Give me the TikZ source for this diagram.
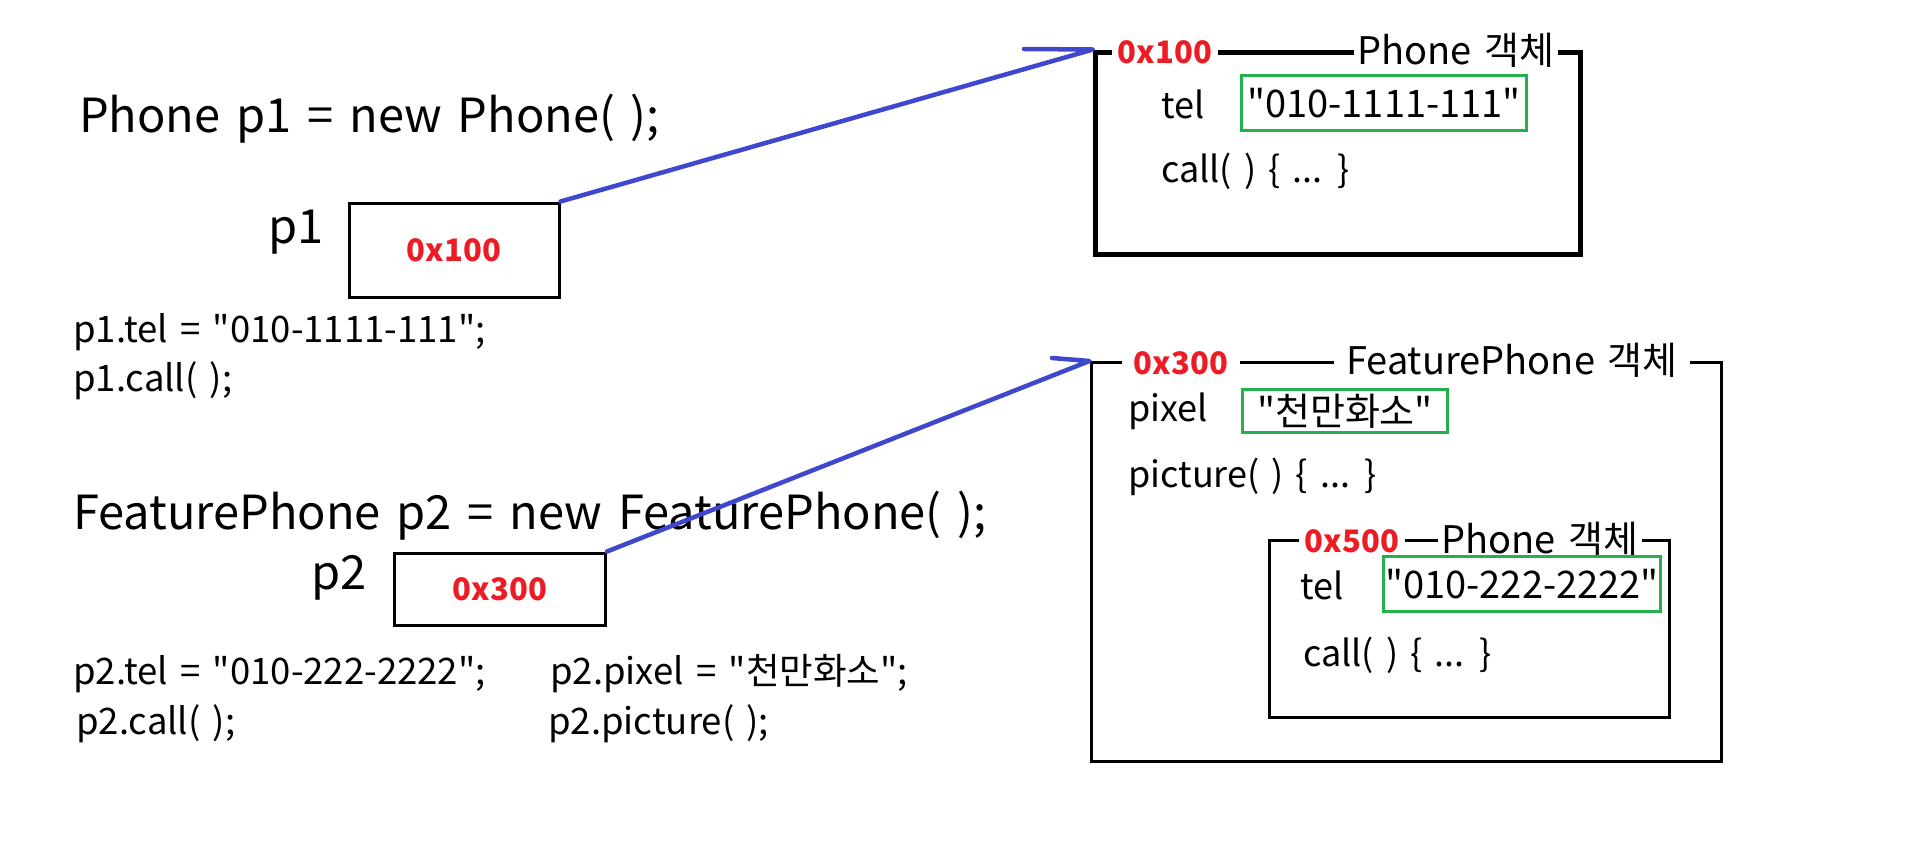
\documentclass[tikz,border=0pt]{standalone}
\usepackage{fontspec}
\setmainfont{Noto Sans CJK KR}[WordSpace=1.5, Ligatures=TeXOff]
\usetikzlibrary{positioning}
\definecolor{memRed}{HTML}{ED1C24}
\definecolor{memGreen}{HTML}{22B14C}
\definecolor{memBlue}{HTML}{3F48CC}

\begin{document}
\begin{tikzpicture}[
    x=1pt, y=-1pt,
    decl/.style={
        anchor=west,
        inner sep=0pt,
        font=\fontsize{47}{52}\selectfont,
    },
    stmt/.style={
        anchor=west,
        inner sep=0pt,
        font=\fontsize{36.5}{40}\selectfont,
    },
    addr/.style={
        text=memRed,
        font=\fontsize{31}{34}\selectfont\bfseries,
    },
    refvar/.style={
        rectangle,
        draw,
        line width=3pt,
        addr,
    },
    heap/.style={
        rectangle,
        draw,
        line width=3pt,
    },
    heap_title/.style={
        fill=white,
        inner xsep=6pt,
        inner ysep=0pt,
        font=\fontsize{38}{42}\selectfont,
    },
    heap_addr/.style={heap_title, addr},
    field/.style={stmt, font=\fontsize{36}{40}\selectfont},
    value/.style={
        rectangle,
        draw=memGreen,
        line width=3pt,
        inner sep=0pt,
        font=\fontsize{38}{42}\selectfont,
    },
    ptr/.style={
        line width=4.5pt,
        memBlue,
        line cap=round,
        line join=round,
    },
]
    \useasboundingbox (0,0) rectangle (1917,857);

    % === Phone p1 ===
    \node[decl] (decl1) at (79,119) {Phone p1 = new Phone( );};
    \node[refvar, minimum width=210pt, minimum height=94pt] (p1box) at (454,250) {0x100};
    \node[decl, anchor=east] (p1name) at (324,232) {p1};
    \node[stmt] (p1tel) at (73,332) {p1.tel = "010-1111-111";};
    \node[stmt] (p1call) at (73,381) {p1.call( );};

    % === FeaturePhone p2 ===
    \node[decl] (decl2) at (73,516) {FeaturePhone p2 = new FeaturePhone( );};
    \node[refvar, minimum width=211pt, minimum height=72pt] (p2box) at (500,589) {0x300};
    \node[decl, anchor=east] (p2name) at (367,578) {p2};
    \node[stmt] (p2tel) at (73,674) {p2.tel = "010-222-2222";};
    \node[stmt] (p2pixel) at (550,674) {p2.pixel = "천만화소";};
    \node[stmt] (p2call) at (76,724) {p2.call( );};
    \node[stmt] (p2picture) at (548,724) {p2.picture( );};

    % === Heap: Phone object ===
    \node[heap, line width=5pt, minimum width=485pt, minimum height=202pt] (phoneobj) at (1338,153) {};
    \node[heap_addr] (phoneaddr) at (1165,52) {0x100};
    \node[heap_title, inner xsep=3pt] (phonetitle) at (1456,50) {Phone 객체};
    \node[field] (phonetel) at (1161,104) {tel};
    \node[value, minimum width=285pt, minimum height=55pt] (phonetelval) at (1384,103) {"010-1111-111"};
    \node[field] (phonecall) at (1161,171) {call( ) \{ ... \}};

    % === Heap: FeaturePhone object ===
    \node[heap, minimum width=630pt, minimum height=399pt] (fpobj) at (1406,562) {};
    \node[heap_addr, inner xsep=12pt] (fpaddr) at (1181,363) {0x300};
    \node[heap_title, inner xsep=12pt] (fptitle) at (1512,360) {FeaturePhone 객체};
    \node[field] (fppixel) at (1128,411) {pixel};
    \node[value, minimum width=205pt, minimum height=43pt] (fppixelval) at (1345,411) {"천만화소"};
    \node[field] (fppicture) at (1128,477) {picture( ) \{ ... \}};

    % Phone part inside FeaturePhone
    \node[heap, minimum width=400pt, minimum height=177pt] (innerobj) at (1469,629) {};
    \node[heap_addr] (inneraddr) at (1352,541) {0x500};
    \node[heap_title, inner xsep=3pt] (innertitle) at (1540,539) {Phone 객체};
    \node[field] (innertel) at (1300,585) {tel};
    \node[value, minimum width=277pt, minimum height=55pt] (innertelval) at (1522,584) {"010-222-2222"};
    \node[field] (innercall) at (1303,655) {call( ) \{ ... \}};

    % References (hand drawn arrows)
    \coordinate (barb1) at (1024,49);
    \coordinate (barb2) at (1052,358);
    \draw[ptr] (p1box.north east) -- (phoneobj.north west) -- (barb1);
    \draw[ptr] (p2box.north east) -- (fpobj.north west) -- (barb2);

\end{tikzpicture}
\end{document}
